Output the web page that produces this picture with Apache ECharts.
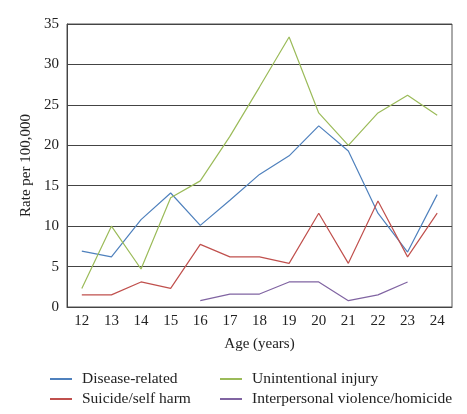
<!DOCTYPE html>
<html><head><meta charset="utf-8">
<script src="https://cdn.jsdelivr.net/npm/echarts@6/dist/echarts.min.js"></script>
<style>html,body{margin:0;padding:0;background:#fff}#c{width:467px;height:414px}</style>
</head><body><div id="c"></div>
<script>
var ages = ['12','13','14','15','16','17','18','19','20','21','22','23','24'];
var diseaseRelated = [6.9, 6.2, 10.8, 14.1, 10.1, 13.2, 16.4, 18.7, 22.4, 19.3, 11.6, 6.8, 13.9];
var unintentionalInjury = [2.3, 10.0, 4.7, 13.5, 15.6, 21.1, 27.2, 33.4, 24.0, 20.0, 24.0, 26.2, 23.7];
var suicideSelfHarm = [1.5, 1.5, 3.1, 2.3, 7.75, 6.2, 6.2, 5.4, 11.6, 5.4, 13.1, 6.2, 11.6];
var interpersonalViolence = [null, null, null, null, 0.78, 1.6, 1.6, 3.1, 3.1, 0.78, 1.5, 3.1, null];
var yTicks = [0, 5, 10, 15, 20, 25, 30, 35];
var seriesNames = ['Disease-related', 'Suicide/self harm', 'Unintentional injury', 'Interpersonal violence/homicide'];

var font = 'Liberation Serif';
function mk(name, data, color) {
  return {name: name, type: 'line', data: data, symbol: 'none', smooth: false,
    lineStyle: {color: color, width: 1.2}, itemStyle: {color: color}};
}
function lg(name, left, top) {
  return {left: left, top: top, data: [name], itemWidth: 22, itemHeight: 2, icon: 'rect',
    textStyle: {fontFamily: font, fontSize: 15.5, color: '#222', padding: [0, 0, 0, 5]}};
}
var chart = echarts.init(document.getElementById('c'));
chart.setOption({
  animation: false,
  grid: {left: 67, top: 24, right: 15, bottom: 107, show: true, borderColor: '#555', borderWidth: 1},
  legend: [
    lg(seriesNames[0], 45, 366),
    lg(seriesNames[1], 45, 386),
    lg(seriesNames[2], 215, 366),
    lg(seriesNames[3], 215, 386)
  ],
  xAxis: {type: 'category', data: ages, boundaryGap: true,
    name: 'Age (years)', nameLocation: 'middle', nameGap: 30,
    nameTextStyle: {fontFamily: font, fontSize: 15, color: '#222'},
    axisLine: {lineStyle: {color: '#444'}},
    axisTick: {alignWithLabel: true, length: 3, lineStyle: {color: '#444'}},
    axisLabel: {fontFamily: font, fontSize: 15, color: '#222', margin: 7}},
  yAxis: {type: 'value', min: yTicks[0], max: yTicks[yTicks.length - 1], interval: 5,
    name: 'Rate per 100,000', nameLocation: 'middle', nameGap: 30,
    nameTextStyle: {fontFamily: font, fontSize: 15, color: '#222'},
    axisLine: {show: true, lineStyle: {color: '#444'}},
    axisTick: {show: false},
    axisLabel: {fontFamily: font, fontSize: 15, color: '#222', margin: 8},
    splitLine: {lineStyle: {color: '#444', width: 1}}},
  series: [
    mk(seriesNames[0], diseaseRelated, '#4f81bd'),
    mk(seriesNames[1], suicideSelfHarm, '#c0504d'),
    mk(seriesNames[2], unintentionalInjury, '#9bbb59'),
    mk(seriesNames[3], interpersonalViolence, '#8064a2')
  ]
});
</script></body></html>
